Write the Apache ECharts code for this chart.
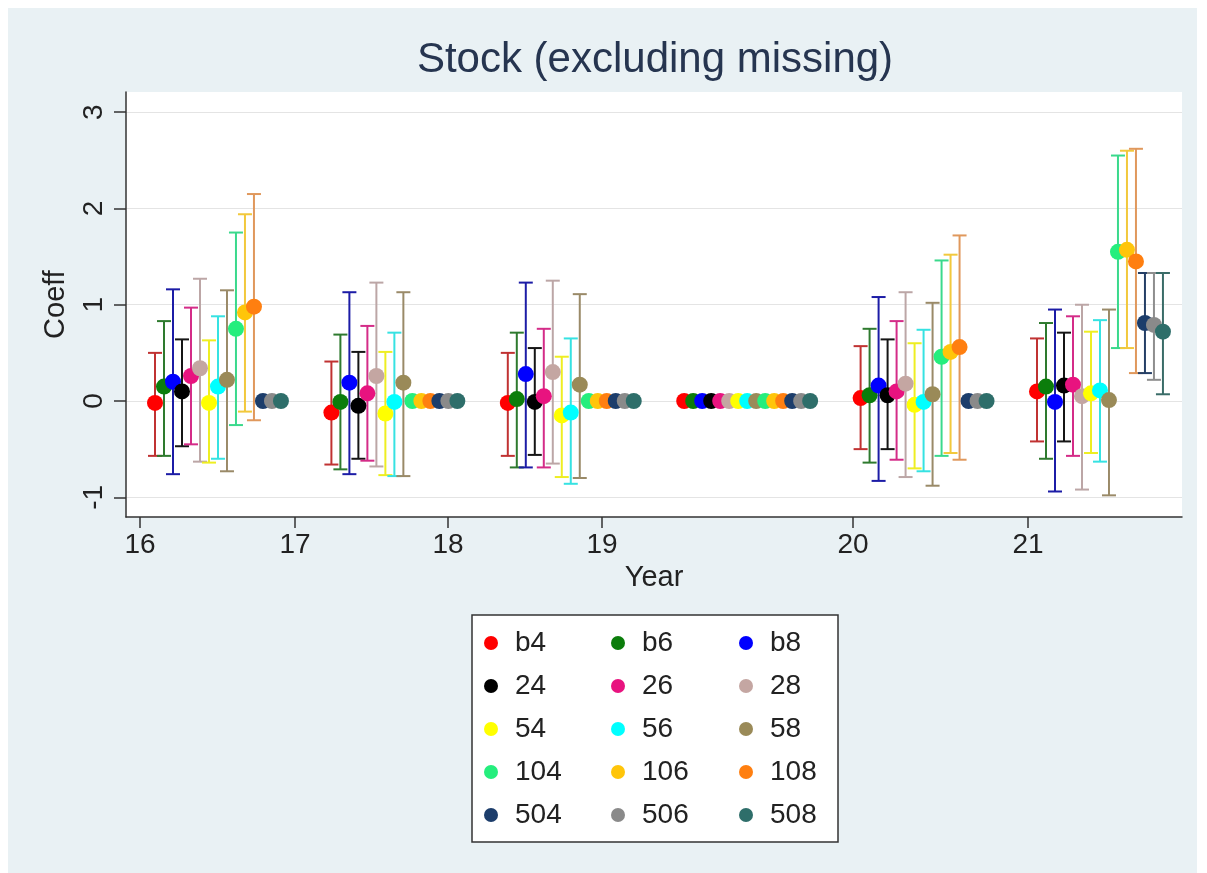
<!DOCTYPE html>
<html>
<head>
<meta charset="utf-8">
<title>Stock (excluding missing)</title>
<script src="https://cdn.jsdelivr.net/npm/echarts@6/dist/echarts.min.js"></script>
<style>
  html, body { margin: 0; padding: 0; background: #ffffff; }
  #chart { width: 1207px; height: 873px; }
</style>
</head>
<body>
<div id="chart"></div>
<script>
// ---- data -------------------------------------------------------------
const years = [16, 17, 18, 19, 20, 21];
const seriesNames = ['b4', 'b6', 'b8', '24', '26', '28', '54', '56', '58',
                     '104', '106', '108', '504', '506', '508'];

// point estimates per series (rows) and year (columns)
const coef = [
  [-0.02, -0.12, -0.02, 0, 0.03, 0.10],
  [0.15, -0.01, 0.02, 0, 0.06, 0.15],
  [0.20, 0.19, 0.28, 0, 0.16, -0.01],
  [0.10, -0.05, -0.01, 0, 0.06, 0.16],
  [0.26, 0.08, 0.05, 0, 0.10, 0.17],
  [0.34, 0.26, 0.30, 0, 0.18, 0.05],
  [-0.02, -0.13, -0.15, 0, -0.04, 0.08],
  [0.15, -0.01, -0.12, 0, -0.01, 0.11],
  [0.22, 0.19, 0.17, 0, 0.07, 0.01],
  [0.75, 0, 0, 0, 0.46, 1.55],
  [0.92, 0, 0, 0, 0.51, 1.57],
  [0.98, 0, 0, 0, 0.56, 1.45],
  [0, 0, 0, 0, 0, 0.81],
  [0, 0, 0, 0, 0, 0.79],
  [0, 0, 0, 0, 0, 0.72]
];
// confidence interval bounds (null = no interval)
const ciLow = [
  [-0.57, -0.66, -0.57, null, -0.50, -0.42],
  [-0.57, -0.71, -0.69, null, -0.64, -0.60],
  [-0.76, -0.76, -0.69, null, -0.83, -0.94],
  [-0.47, -0.60, -0.56, null, -0.50, -0.42],
  [-0.45, -0.62, -0.69, null, -0.61, -0.57],
  [-0.63, -0.68, -0.65, null, -0.79, -0.92],
  [-0.64, -0.77, -0.79, null, -0.70, -0.54],
  [-0.60, -0.78, -0.86, null, -0.73, -0.63],
  [-0.73, -0.78, -0.80, null, -0.88, -0.98],
  [-0.25, null, null, null, -0.57, 0.55],
  [-0.11, null, null, null, -0.54, 0.55],
  [-0.20, null, null, null, -0.61, 0.29],
  [null, null, null, null, null, 0.29],
  [null, null, null, null, null, 0.22],
  [null, null, null, null, null, 0.07]
];
const ciHigh = [
  [0.50, 0.41, 0.50, null, 0.57, 0.65],
  [0.83, 0.69, 0.71, null, 0.75, 0.81],
  [1.16, 1.13, 1.23, null, 1.08, 0.95],
  [0.64, 0.51, 0.55, null, 0.64, 0.71],
  [0.97, 0.78, 0.75, null, 0.83, 0.88],
  [1.27, 1.23, 1.25, null, 1.13, 1.00],
  [0.63, 0.51, 0.46, null, 0.60, 0.72],
  [0.88, 0.71, 0.65, null, 0.74, 0.84],
  [1.15, 1.13, 1.11, null, 1.02, 0.95],
  [1.75, null, null, null, 1.46, 2.55],
  [1.94, null, null, null, 1.52, 2.60],
  [2.15, null, null, null, 1.72, 2.62],
  [null, null, null, null, null, 1.33],
  [null, null, null, null, null, 1.33],
  [null, null, null, null, null, 1.33]
];

// tick labels: position of each year label on the group axis
const yearTickPos = [-0.085, 0.794, 1.661, 2.534, 3.957, 4.949];
const yTicks = [-1, 0, 1, 2, 3];

// ---- styles -----------------------------------------------------------
const markerColors = ['#ff0000', '#0b7d0b', '#0000ff', '#000000', '#e8137f', '#c4a6a2',
                      '#ffff00', '#00ffff', '#9a8a58', '#25ee7d', '#ffc50a', '#ff7f10',
                      '#1c3d6b', '#8a8a8a', '#2e6e6a'];
const barColors = ['#c03232', '#2e7a2e', '#1c1ca6', '#151515', '#d42c88', '#bca6a6',
                   '#eeee22', '#36e2e2', '#9a8a68', '#3ad98c', '#f2c83c', '#e0985c',
                   '#253f66', '#8e8e8e', '#3a6c68'];
const slotStep = 0.051;   // horizontal offset between series inside a year group
const fontFamily = '"Liberation Sans", Arial, Helvetica, sans-serif';

// ---- series -----------------------------------------------------------
const pointSeries = [];
const barSeries = [];
seriesNames.forEach((name, s) => {
  const pts = [];
  const bars = [];
  years.forEach((yr, g) => {
    const x = g + s * slotStep;
    pts.push([x, coef[s][g]]);
    if (ciLow[s][g] !== null && ciHigh[s][g] !== null) {
      bars.push([x, ciLow[s][g], ciHigh[s][g]]);
    }
  });
  pointSeries.push({
    name: name,
    type: 'scatter',
    data: pts,
    symbol: 'circle',
    symbolSize: 16,
    legendIcon: 'circle',
    itemStyle: { color: markerColors[s], opacity: 1 },
    z: 5,
    silent: true
  });
  const stroke = barColors[s];
  barSeries.push({
    name: name,
    type: 'custom',
    data: bars,
    encode: { x: 0, y: [1, 2] },
    z: 3,
    silent: true,
    itemStyle: { color: markerColors[s] },
    renderItem: function (params, api) {
      const x = api.value(0);
      const pLo = api.coord([x, api.value(1)]);
      const pHi = api.coord([x, api.value(2)]);
      const cap = 7;
      const style = { stroke: stroke, lineWidth: 2, fill: null };
      return {
        type: 'group',
        children: [
          { type: 'line', shape: { x1: pHi[0], y1: pHi[1], x2: pLo[0], y2: pLo[1] }, style: style },
          { type: 'line', shape: { x1: pHi[0] - cap, y1: pHi[1], x2: pHi[0] + cap, y2: pHi[1] }, style: style },
          { type: 'line', shape: { x1: pLo[0] - cap, y1: pLo[1], x2: pLo[0] + cap, y2: pLo[1] }, style: style }
        ]
      };
    }
  });
});

// three legend columns, five rows each
const legendColumns = [0, 1, 2].map(c => seriesNames.filter((n, i) => i % 3 === c));
const legendLeft = [484, 611, 739];
const legends = legendColumns.map((names, c) => ({
  data: names,
  orient: 'vertical',
  left: legendLeft[c],
  top: 629,
  itemWidth: 14,
  itemHeight: 14,
  itemGap: 15,
  icon: 'circle',
  selectedMode: false,
  padding: 0,
  textStyle: {
    fontFamily: fontFamily,
    fontSize: 28,
    lineHeight: 28,
    color: '#222222',
    padding: [0, 0, 0, 12]
  }
}));

const chart = echarts.init(document.getElementById('chart'), null, { renderer: 'canvas' });
chart.setOption({
  animation: false,
  backgroundColor: '#ffffff',
  title: {
    text: 'Stock (excluding missing)',
    left: 655,
    top: 39,
    textAlign: 'center',
    padding: 0,
    textStyle: {
      fontFamily: fontFamily,
      fontSize: 42,
      fontWeight: 'normal',
      color: '#263550'
    }
  },
  graphic: [
    {
      type: 'rect',
      z: -10,
      shape: { x: 8, y: 8, width: 1189, height: 880 },
      style: { fill: '#e9f1f4' },
      silent: true
    },
    {
      type: 'rect',
      z: -5,
      shape: { x: 472, y: 615, width: 366, height: 227 },
      style: { fill: '#ffffff', stroke: '#333333', lineWidth: 1.5 },
      silent: true
    }
  ],
  legend: legends,
  grid: {
    left: 126,
    right: 25,
    top: 92,
    bottom: 356,
    show: true,
    backgroundColor: '#ffffff',
    borderWidth: 0
  },
  xAxis: {
    type: 'value',
    min: -0.1644,
    max: 5.822,
    name: 'Year',
    nameLocation: 'middle',
    nameGap: 46,
    nameTextStyle: { fontFamily: fontFamily, fontSize: 29, color: '#222222' },
    axisLine: { show: true, onZero: false, lineStyle: { color: '#333333', width: 1.5 } },
    axisTick: {
      show: true, length: 11, inside: false,
      customValues: yearTickPos,
      lineStyle: { color: '#333333', width: 1.5 }
    },
    axisLabel: {
      customValues: yearTickPos,
      margin: 14,
      fontFamily: fontFamily,
      fontSize: 28,
      color: '#222222',
      formatter: function (v) {
        let best = 0;
        yearTickPos.forEach((p, i) => { if (Math.abs(p - v) < Math.abs(yearTickPos[best] - v)) best = i; });
        return String(years[best]);
      }
    },
    splitLine: { show: false }
  },
  yAxis: {
    type: 'value',
    min: -1.205,
    max: 3.21,
    name: 'Coeff',
    nameLocation: 'middle',
    nameGap: 56,
    nameRotate: 90,
    nameTextStyle: { fontFamily: fontFamily, fontSize: 29, color: '#222222' },
    axisLine: { show: true, onZero: false, lineStyle: { color: '#333333', width: 1.5 } },
    axisTick: {
      show: true, length: 12, inside: false,
      customValues: yTicks,
      lineStyle: { color: '#333333', width: 1.5 }
    },
    axisLabel: {
      customValues: yTicks,
      rotate: 90,
      margin: 18,
      fontFamily: fontFamily,
      fontSize: 28,
      color: '#222222'
    },
    splitLine: { show: true, lineStyle: { color: '#e4e4e4', width: 1 } }
  },
  series: pointSeries.concat(barSeries)
});
</script>
</body>
</html>
